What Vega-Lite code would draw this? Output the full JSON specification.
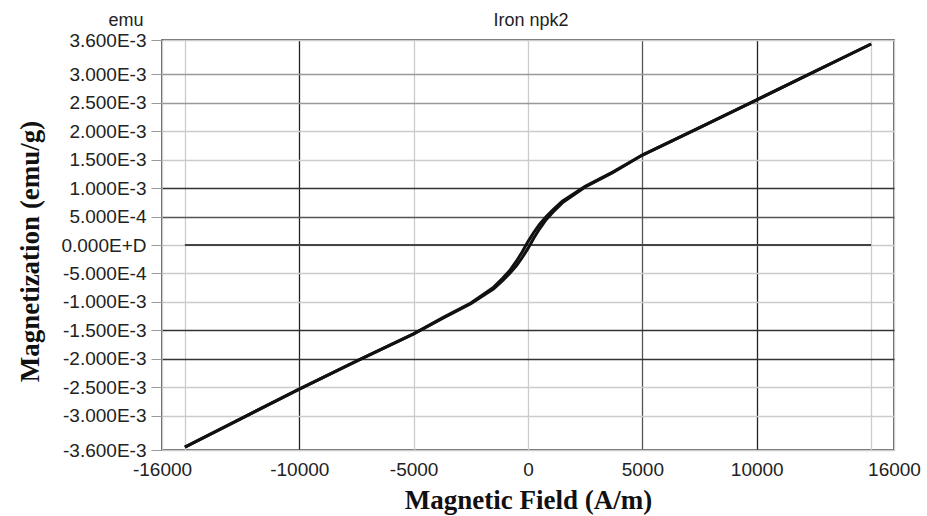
{
  "$schema": "https://vega.github.io/schema/vega-lite/v6.json",
  "width": 732,
  "height": 410,
  "autosize": {"type": "none"},
  "padding": {"left": 162, "top": 40, "right": 33, "bottom": 66},
  "background": "white",
  "title": {"text": "Iron npk2", "anchor": "middle", "dx": 3, "offset": -19, "font": "Liberation Sans", "fontSize": 18, "fontWeight": "normal", "color": "#222"},
  "config": {
    "view": {"stroke": "#333", "strokeWidth": 1.5},
    "axis": {"domain": false, "labelFont": "Liberation Sans", "labelFontSize": 19, "labelColor": "#222", "titleFont": "Liberation Serif", "titleFontWeight": "bold", "titleFontSize": 27, "titleColor": "#111", "gridWidth": 1.3, "labelFlush": false, "labelOverlap": false}
  },
  "datasets": {
    "curve": [
      {"H": -15000, "M": -0.00355, "branch": "up"},
      {"H": -12500, "M": -0.00304, "branch": "up"},
      {"H": -10000, "M": -0.00253, "branch": "up"},
      {"H": -7500, "M": -0.00204, "branch": "up"},
      {"H": -5000, "M": -0.00156, "branch": "up"},
      {"H": -3700, "M": -0.00128, "branch": "up"},
      {"H": -2500, "M": -0.00103, "branch": "up"},
      {"H": -1500, "M": -0.00077, "branch": "up"},
      {"H": -1100, "M": -0.00062, "branch": "up"},
      {"H": -800, "M": -0.00050, "branch": "up"},
      {"H": -500, "M": -0.00036, "branch": "up"},
      {"H": -250, "M": -0.00022, "branch": "up"},
      {"H": 0, "M": -0.00006, "branch": "up"},
      {"H": 250, "M": 0.00012, "branch": "up"},
      {"H": 500, "M": 0.00028, "branch": "up"},
      {"H": 800, "M": 0.00045, "branch": "up"},
      {"H": 1100, "M": 0.00058, "branch": "up"},
      {"H": 1500, "M": 0.00074, "branch": "up"},
      {"H": 2500, "M": 0.00102, "branch": "up"},
      {"H": 3700, "M": 0.00127, "branch": "up"},
      {"H": 5000, "M": 0.00158, "branch": "up"},
      {"H": 7500, "M": 0.00206, "branch": "up"},
      {"H": 10000, "M": 0.00255, "branch": "up"},
      {"H": 12500, "M": 0.00304, "branch": "up"},
      {"H": 15000, "M": 0.00353, "branch": "up"},
      {"H": -15000, "M": -0.00355, "branch": "down"},
      {"H": -12500, "M": -0.00304, "branch": "down"},
      {"H": -10000, "M": -0.00253, "branch": "down"},
      {"H": -7500, "M": -0.00204, "branch": "down"},
      {"H": -5000, "M": -0.00156, "branch": "down"},
      {"H": -3700, "M": -0.00127, "branch": "down"},
      {"H": -2500, "M": -0.00102, "branch": "down"},
      {"H": -1500, "M": -0.00074, "branch": "down"},
      {"H": -1100, "M": -0.00058, "branch": "down"},
      {"H": -800, "M": -0.00045, "branch": "down"},
      {"H": -500, "M": -0.00028, "branch": "down"},
      {"H": -250, "M": -0.00012, "branch": "down"},
      {"H": 0, "M": 0.00006, "branch": "down"},
      {"H": 250, "M": 0.00022, "branch": "down"},
      {"H": 500, "M": 0.00036, "branch": "down"},
      {"H": 800, "M": 0.00050, "branch": "down"},
      {"H": 1100, "M": 0.00062, "branch": "down"},
      {"H": 1500, "M": 0.00077, "branch": "down"},
      {"H": 2500, "M": 0.00103, "branch": "down"},
      {"H": 3700, "M": 0.00128, "branch": "down"},
      {"H": 5000, "M": 0.00158, "branch": "down"},
      {"H": 7500, "M": 0.00206, "branch": "down"},
      {"H": 10000, "M": 0.00255, "branch": "down"},
      {"H": 12500, "M": 0.00304, "branch": "down"},
      {"H": 15000, "M": 0.00353, "branch": "down"}
    ],
    "zero": [
      {"H": -15000, "M": 0},
      {"H": 15000, "M": 0}
    ]
  },
  "layer": [
    {
      "data": {"name": "zero"},
      "mark": {"type": "line", "color": "#444", "strokeWidth": 2},
      "encoding": {
        "x": {"field": "H", "type": "quantitative", "scale": {"domain": [-16000, 16000], "nice": false, "zero": false},
          "axis": {"orient": "top", "labels": false, "ticks": false, "grid": false, "domain": false, "title": "emu", "titleFont": "Liberation Sans", "titleFontWeight": "normal", "titleFontSize": 18, "titleColor": "#222", "titleAngle": 0, "titleAlign": "right", "titleBaseline": "alphabetic", "titleX": -19, "titleY": -15}},
        "y": {"field": "M", "type": "quantitative", "scale": {"domain": [-0.0036, 0.0036], "nice": false, "zero": false},
          "axis": {"orient": "left", "title": "Magnetization (emu/g)", "titlePadding": 16, "titleY": 211, "grid": true, "tickCount": 40,
            "values": [-0.0036, -0.003, -0.0025, -0.002, -0.0015, -0.001, -0.0005, 0, 0.0005, 0.001, 0.0015, 0.002, 0.0025, 0.003, 0.0036],
            "labelExpr": "datum.value == 0 ? '0.000E+D' : replace(replace(format(datum.value, '.3e'), regexp('\u2212', 'g'), '-'), 'e', 'E')",
            "tickSize": 11, "tickColor": "#999", "labelPadding": 5,
            "gridColor": {"condition": [
              {"test": "datum.value == 0.001 || datum.value == -0.0015 || datum.value == -0.002", "value": "#333"},
              {"test": "datum.value == 0.0005", "value": "#555"},
              {"test": "datum.value == 0.003 || datum.value == 0.0025", "value": "#999"}
            ], "value": "#cccccc"}}}
      }
    },
    {
      "data": {"name": "curve"},
      "mark": {"type": "line", "color": "#111", "strokeWidth": 3},
      "encoding": {
        "x": {"field": "H", "type": "quantitative",
          "axis": {"orient": "bottom", "title": "Magnetic Field (A/m)", "titlePadding": 8, "grid": true, "tickCount": 40,
            "values": [-16000, -15000, -10000, -5000, 0, 5000, 10000, 15000, 16000],
            "labelExpr": "abs(datum.value) == 15000 ? '' : replace(format(datum.value, 'd'), '\u2212', '-')",
            "ticks": false, "labelPadding": 10,
            "gridColor": {"condition": [
              {"test": "datum.value == -10000 || datum.value == 10000", "value": "#222"},
              {"test": "datum.value == 5000", "value": "#555"}
            ], "value": "#cccccc"}}},
        "y": {"field": "M", "type": "quantitative"},
        "detail": {"field": "branch"}
      }
    }
  ],
  "resolve": {"axis": {"x": "independent"}}
}
